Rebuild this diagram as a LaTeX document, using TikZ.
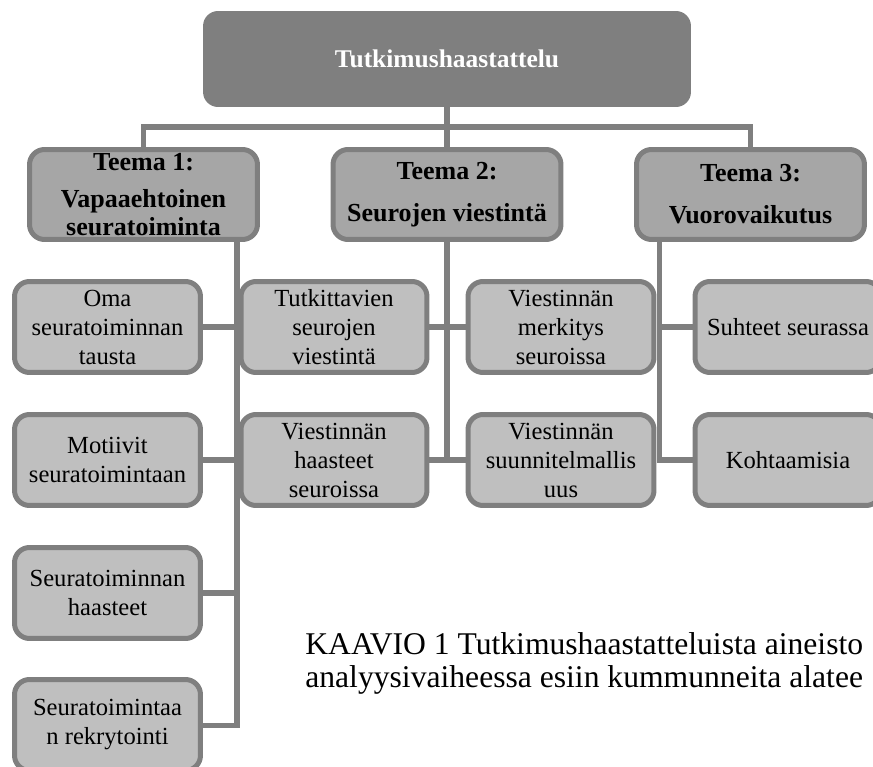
\documentclass[tikz,border=0pt]{standalone}
\usepackage{fontspec}
\setmainfont{Liberation Serif}
\usepackage{xcolor}
\usepackage{tikz}
\definecolor{darkgrey}{HTML}{7F7F7F}
\definecolor{midgrey}{HTML}{A6A6A6}
\definecolor{lightgrey}{HTML}{BFBFBF}

\begin{document}
\begin{tikzpicture}[x=0.02cm, y=-0.02cm,
    link/.style={draw=darkgrey, line width=2.85pt},
    topbox/.style={rectangle, rounded corners=0.3cm, fill=darkgrey, minimum width=9.76cm, minimum height=1.92cm, text=white, font=\fontsize{14.5}{16}\selectfont\bfseries},
    themebox/.style={rectangle, rounded corners=0.3cm, draw=darkgrey, line width=2.85pt, fill=midgrey, minimum width=4.56cm, minimum height=1.8cm, inner sep=0pt, align=center, font=\fontsize{14.8}{16}\selectfont\bfseries},
    subbox/.style={rectangle, rounded corners=0.3cm, draw=darkgrey, line width=2.85pt, fill=lightgrey, minimum width=3.72cm, minimum height=1.82cm, inner sep=0pt, align=center, font=\fontsize{14}{16.5}\selectfont}]
    \useasboundingbox (0,0) rectangle (873,767);
    \clip (0,0) rectangle (873,767);

    % Main box
    \node[topbox] (top) at (447,59) {Tutkimushaastattelu};

    % Themes
    \node[themebox] (t1) at (143.5,194.5) {Teema 1:\\[5pt] Vapaaehtoinen\\ seuratoiminta};
    \node[themebox] (t2) at (447,194.5) {Teema 2:\\[8pt] Seurojen viestintä};
    \node[themebox] (t3) at (750.5,194.5) {Teema 3:\\[8pt] Vuorovaikutus};

    % Sub themes of theme 1
    \node[subbox] (l1) at (107.5,327) {Oma\\ seuratoiminnan\\ tausta};
    \node[subbox] (l2) at (107.5,460) {Motiivit\\ seuratoimintaan};
    \node[subbox] (l3) at (107.5,593) {Seuratoiminnan\\ haasteet};
    \node[subbox] (l4) at (107.5,725) {Seuratoimintaa\\ n rekrytointi};

    % Sub themes of theme 2
    \node[subbox] (a1) at (334,327) {Tutkittavien\\ seurojen\\ viestintä};
    \node[subbox] (a2) at (334,460) {Viestinnän\\ haasteet\\ seuroissa};
    \node[subbox] (b1) at (561,327) {Viestinnän\\ merkitys\\ seuroissa};
    \node[subbox] (b2) at (561,460) {Viestinnän\\ suunnitelmallis\\ uus};

    % Sub themes of theme 3
    \node[subbox] (c1) at (788,327) {Suhteet seurassa};
    \node[subbox] (c2) at (788,460) {Kohtaamisia};

    % Tree lines
    \coordinate (hub) at (447,127);
    \coordinate (v1) at (237,242);
    \coordinate (v3) at (659,242);
    \draw[link] (top.south) -- (t2.north);
    \draw[link] (t1.north) |- (hub) -| (t3.north);

    \draw[link] (v1) |- (l4.east);
    \foreach \i in {1,2,3} {
        \draw[link] (l\i.east) -- (l\i.east -| v1);
    }

    \draw[link] (t2.south) |- (a2.east);
    \draw[link] (t2.south) |- (b2.west);
    \draw[link] (a1.east) -- (b1.west);

    \draw[link] (v3) |- (c2.west);
    \draw[link] (c1.west) -- (c1.west -| v3);

    % Caption
    \node[anchor=north west, inner sep=0pt, align=left, font=\fontsize{18}{19}\selectfont] (caption) at (305,632)
        {KAAVIO 1 Tutkimushaastatteluista aineisto\\ analyysivaiheessa esiin kummunneita alatee};
\end{tikzpicture}
\end{document}
